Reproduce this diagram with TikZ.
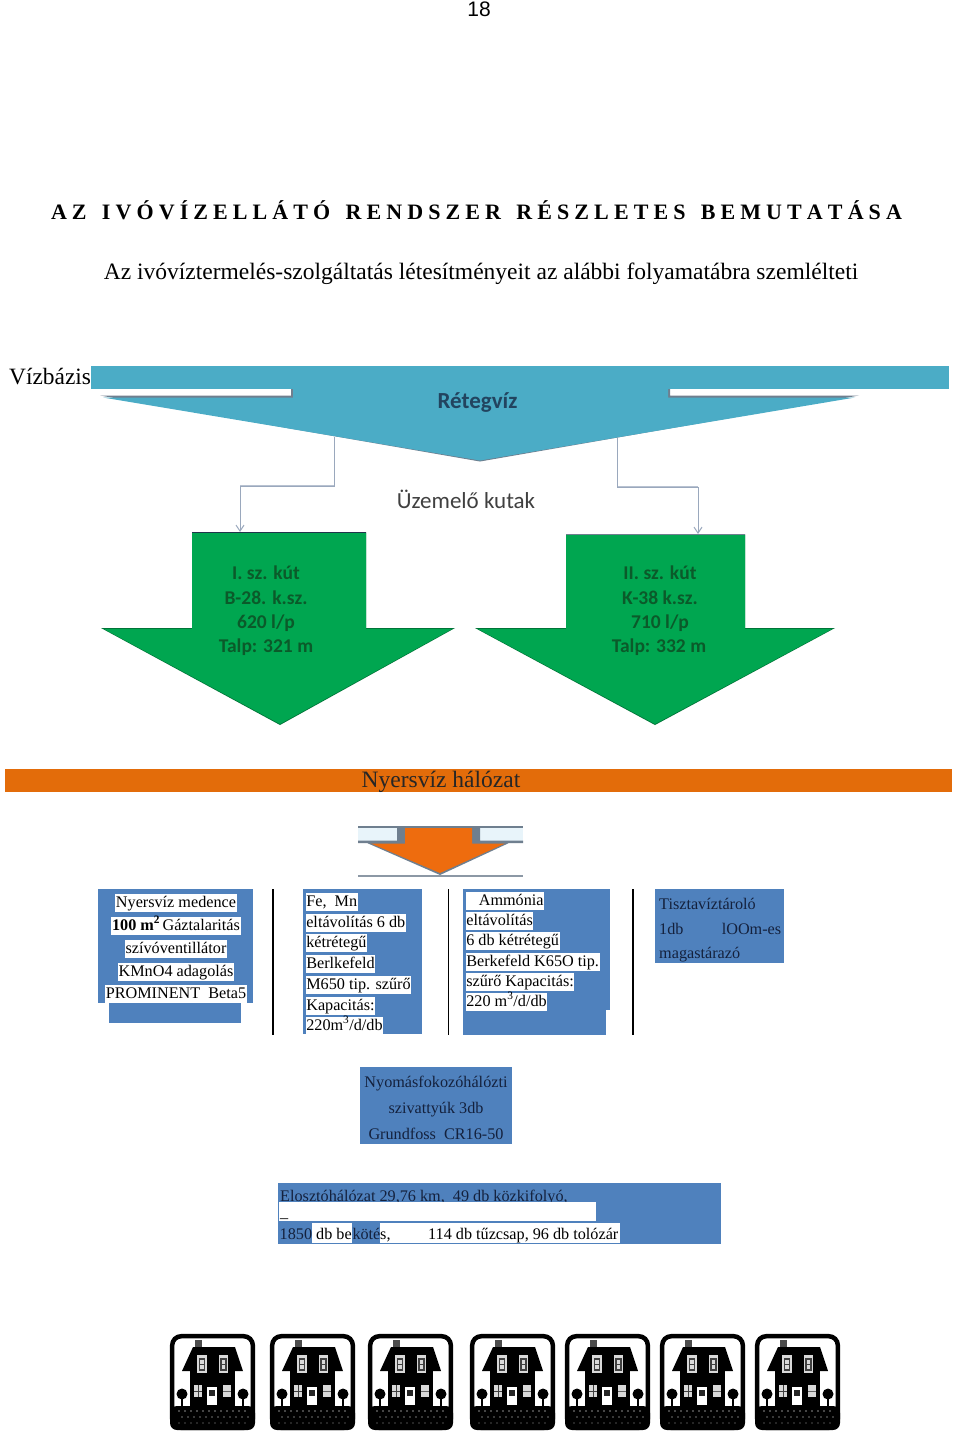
\documentclass[tikz,border=0pt]{standalone}
\usepackage{fontspec}
\setmainfont{Liberation Serif}
\newfontfamily\lsans{Liberation Sans}
\newfontfamily\calib{Carlito}
\usetikzlibrary{arrows.meta}
\definecolor{bluebox}{HTML}{4F81BD}
\definecolor{teal}{HTML}{4BACC6}
\definecolor{greenar}{HTML}{00A650}
\definecolor{orangear}{HTML}{E36C0A}
\definecolor{orangeb}{HTML}{EE6C0E}
\definecolor{darktxt}{HTML}{14213D}
\definecolor{greentxt}{HTML}{0B5A2A}
\definecolor{connc}{HTML}{9AA8BD}
\definecolor{edgec}{HTML}{6F7F8F}
\definecolor{slotc}{HTML}{E8F4FA}
\newcommand\bfnt{\fontsize{16.2}{18}\selectfont}
\newcommand\myhouse[1]{%
 \begin{scope}[shift={(#1,1334)}]
  \draw[black,line width=4.5pt,rounded corners=9pt,fill=white] (2.2,2.2) rectangle (82.8,93.8);
  \fill[black,rounded corners=7pt] (0,72) -- (85,72) -- (85,96) -- (0,96) -- cycle;
  \fill[black!70] (25,6) rectangle (32,13);
  \fill[black] (12,37) -- (23,13) -- (65,13) -- (73,37) -- cycle;
  \fill[black] (20,37) rectangle (65,72);
  \fill[white!85!black] (27,21) rectangle (37,39);
  \fill[white!85!black] (49,21) rectangle (58,39);
  \draw[black!75,line width=1.2pt] (29.5,25) rectangle (34.5,36) (29.5,30.5) -- (34.5,30.5);
  \draw[black!75,line width=1.2pt] (51,25) rectangle (56,36) (51,30.5) -- (56,30.5);
  \fill[white!85!black] (24,51) rectangle (32,63);
  \fill[white!85!black] (53,51) rectangle (61,63);
  \draw[black!75,line width=1pt] (28,51) -- (28,63) (24,57) -- (32,57);
  \draw[black!60,line width=1pt] (53,57) -- (61,57);
  \fill[white] (37,53) rectangle (47,71);
  \fill[black!85] (39,56) rectangle (45,62);
  \fill[black] (12,60) circle (5.5);
  \fill[black] (73,60) circle (5.5);
  \fill[black] (11,62) rectangle (13,72);
  \fill[black] (72,62) rectangle (74,72);
  \foreach \xx in {9,15,...,75} {\fill[white!55!black] (\xx,77) circle (0.9); \fill[white!45!black] (\xx+3,83) circle (0.9); \fill[white!30!black] (\xx,89) circle (0.8);}
 \end{scope}}
\tikzset{
 x=1pt,y=-1pt,
 boxfill/.style={fill=bluebox},
 hl/.style={fill=white,inner sep=0pt,inner xsep=0.6pt,text height=13pt,text depth=5pt,font=\bfnt,anchor=west,text=black},
 hlc/.style={hl,anchor=center},
 plain/.style={inner sep=0pt,font=\bfnt,text=darktxt,anchor=base west},
 plainc/.style={plain,anchor=base},
 well/.style={inner sep=0pt,font=\calib\bfseries\fontsize{19.5}{22}\selectfont,text=greentxt},
 rule/.style={black,line width=1.6pt},
 conn/.style={connc,line width=1pt,-{Straight Barb[length=6pt,width=8pt]}},
 connthick/.style={connc!70,line width=2pt},
}
\begin{document}
\begin{tikzpicture}
\useasboundingbox (0,0) rectangle (960,1431);
\fill[white] (0,0) rectangle (960,1431);
\node[inner sep=0pt,font=\lsans\fontsize{21}{24}\selectfont] (page) at (479,9) {18};
\node[inner sep=0pt,font=\bfseries\fontsize{22}{26}\selectfont] (title) at (476.5,210) {\makebox[851pt][s]{A Z\ \ \ I V Ó V Í Z E L L Á T Ó\ \ \ R E N D S Z E R\ \ \ R É S Z L E T E S\ \ \ B E M U T A T Á S A}};
\node[inner sep=0pt,font=\fontsize{23.5}{28}\selectfont] (sub) at (481,274) {Az ivóvíztermelés-szolgáltatás létesítményeit az alábbi folyamatábra szemlélteti};
\node[inner sep=0pt,anchor=west,font=\fontsize{23.4}{28}\selectfont] (viz) at (9,377) {Vízbázis};

% Blue arrow
\fill[teal] (91,366) rectangle (949,389);
\fill[edgec] (100,395.5) -- (291,395.5) -- (291,389) -- (670,389) -- (670,395.5) -- (859,395.5) -- (480,461.5) -- cycle;
\fill[teal] (103,397.5) -- (293,397.5) -- (293,389) -- (668,389) -- (668,397.5) -- (855,397.5) -- (480,460.5) -- cycle;
\node[inner sep=0pt,font=\calib\bfseries\fontsize{23}{26}\selectfont,text=darktxt!75!teal] (ret) at (477.5,403) {Rétegvíz};
\node[inner sep=0pt,font=\calib\fontsize{23}{26}\selectfont,text=black!75] (uzem) at (466,499) {Üzemelő kutak};
\coordinate (ret1) at (334,437);
\coordinate (ret2) at (617,438);
\coordinate (w1top) at (240,532);
\coordinate (w2top) at (698,534);

% Green arrows
\fill[black!30!greenar] (192,532) -- (366,532) -- (366,628) -- (455,628) -- (280,725) -- (101,628) -- (192,628) -- cycle;
\fill[black!30!greenar] (566,534) -- (745,534) -- (745,628) -- (835,628) -- (655,725) -- (475,628) -- (566,628) -- cycle;
\fill[greenar] (192,533) -- (366,533) -- (366,629) -- (452,629) -- (280,724) -- (104,629) -- (192,629) -- cycle;
\fill[greenar] (566,535) -- (745,535) -- (745,629) -- (832,629) -- (655,724) -- (478,629) -- (566,629) -- cycle;
\draw[black!60!bluebox,line width=1.5pt] (192,532.7) -- (366,532.7);
\draw[edgec,line width=1.5pt] (566,534.7) -- (745,534.7);
\node[well] (w1a) at (266,573) {I. sz. kút};
\node[well] (w1b) at (266,598) {B-28. k.sz.};
\node[well] (w1c) at (266,623) {620 l/p};
\node[well] (w1d) at (266,647) {Talp: 321 m};
\node[well] (w2a) at (660,573) {II. sz. kút};
\node[well] (w2b) at (660,598) {K-38 k.sz.};
\node[well] (w2c) at (660,623) {710 l/p};
\node[well] (w2d) at (659,647) {Talp: 332 m};
\draw[connthick] (334,486) -- (240,486);
\draw[connthick] (617,487) -- (698,487);
\draw[conn] (ret1) -- (334,486) -- (240,486) -- (w1top);
\draw[conn] (ret2) -- (617,487) -- (698,487) -- (w2top);

% Orange band
\fill[orangear] (5,769) rectangle (952,792);
\node[inner sep=0pt,font=\fontsize{23.5}{28}\selectfont,text=black!85] (nyers) at (441,782) {Nyersvíz hálózat};
\fill[slotc] (358,828) rectangle (397,841);
\fill[slotc] (480,828) rectangle (523,841);
\fill[edgec] (358,840.5) -- (397,840.5) -- (397,827) -- (480,827) -- (480,840.5) -- (523,840.5) -- (523,843) -- (509,843) -- (440,875) -- (367,843) -- (358,843) -- cycle;
\fill[orangeb] (405,827) -- (472,827) -- (472,843.5) -- (505,843.5) -- (440,873) -- (371,843.5) -- (405,843.5) -- cycle;
\draw[edgec,line width=1.2pt] (358,827) -- (523,827);
\draw[edgec!80,line width=1.2pt] (358,876) -- (523,876);

% Box 1
\fill[bluebox] (98,889) rectangle (253,1003);
\fill[bluebox] (109,1003) rectangle (241,1023);
\node[hlc] (a1) at (176,903) {Nyersvíz medence};
\node[hlc] (a2) at (176,926) {\textbf{100 m\textsuperscript{2}}\hspace{2.5pt}Gáztalaritás};
\node[hlc] (a3) at (176,949) {szívóventillátor};
\node[hlc] (a4) at (176,972) {KMnO4 adagolás};
\node[hlc] (a5) at (176,994) {PROMINENT\ \ Beta5};

% Rules
\coordinate (r1a) at (273,889); \coordinate (r1b) at (273,1035);
\coordinate (r2a) at (448.5,889); \coordinate (r2b) at (448.5,1035);
\coordinate (r3a) at (633,889); \coordinate (r3b) at (633,1035);
\draw[rule] (r1a) -- (r1b);
\draw[rule] (r2a) -- (r2b);
\draw[rule] (r3a) -- (r3b);

% Box 2
\fill[bluebox] (303,889) rectangle (422,1034);
\node[hl] (b1) at (305.5,902) {Fe,\ \ Mn};
\node[hl] (b2) at (305.5,923) {eltávolítás 6 db};
\node[hl] (b3) at (305.5,943) {kétrétegű};
\node[hl] (b4) at (305.5,964) {Berlkefeld};
\node[hl] (b5) at (305.5,985) {M650 tip. szűrő};
\node[hl] (b6) at (305.5,1006) {Kapacitás:};
\node[hl] (b7) at (305.5,1026) {220m\textsuperscript{3}/d/db};

% Box 3
\fill[bluebox] (463,889) rectangle (610,1010);
\fill[bluebox] (463,1010) rectangle (606,1035);
\node[hl] (c1) at (465.5,901) {\hspace{12.5pt}Ammónia};
\node[hl] (c2) at (465.5,921) {eltávolítás};
\node[hl] (c3) at (465.5,941) {6 db kétrétegű};
\node[hl] (c4) at (465.5,962) {Berkefeld K65O tip.};
\node[hl] (c5) at (465.5,982) {szűrő Kapacitás:};
\node[hl] (c6) at (465.5,1002) {220 m\textsuperscript{3}/d/db};

% Box 4
\fill[bluebox] (655,889) rectangle (784,963);
\node[plain] (d1) at (659,909) {Tisztavíztároló};
\node[plain] (d2) at (659,934) {\makebox[122pt][s]{1db\hfill lOOm-es}};
\node[plain] (d3) at (659,958) {magastárazó};

% Box 5
\fill[bluebox] (360,1067) rectangle (512,1144);
\node[plainc] (e1) at (436,1087) {Nyomásfokozóhálózti};
\node[plainc] (e2) at (436,1113) {szivattyúk 3db};
\node[plainc] (e3) at (436,1139) {Grundfoss\ \ CR16-50};

% Box 6
\fill[bluebox] (278,1183) rectangle (721,1244);
\node[plain] (f1) at (280,1201) {Elosztóhálózat 29,76 km,\ \ 49 db közkifolyó,};
\fill[white] (279,1202) rectangle (596,1221);
\node[plain,text=black] (f2) at (280,1217) {\_};
\fill[white] (312,1223) rectangle (352,1243);
\fill[white] (380,1223) rectangle (620,1243);
\node[plain,text=darktxt] (f3) at (279.5,1239) {1850};
\node[plain,text=black] (f4) at (316,1239) {db be};
\node[plain,text=darktxt] (f5) at (352.3,1239) {köté};
\node[plain,text=black] (f6) at (380,1239) {s,};
\node[plain,text=black] (f7) at (428,1239) {114 db tűzcsap, 96 db tolózár};

% Houses
\myhouse{170}\myhouse{270}\myhouse{368}\myhouse{470}\myhouse{565}\myhouse{660}\myhouse{755}
\end{tikzpicture}
\end{document}
